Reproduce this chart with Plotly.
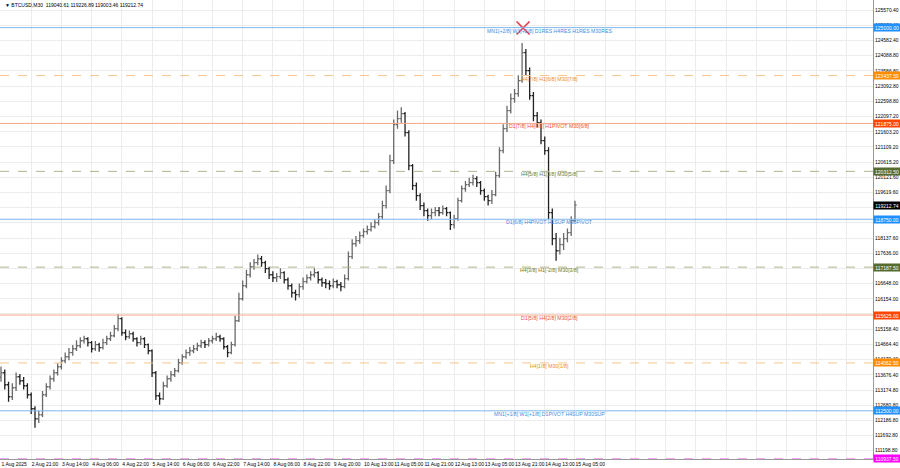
import plotly.graph_objects as go

# ---------------- data ----------------
symbol_info = "\u25bc BTCUSD,M30  119040.61 119226.89 119003.46 119212.74"

# candle closes, highs, lows (one candle every 4 M30 slots)
closes = [113742,113351,112960,113253,113612,113482,113318,113025,112568,112242,
          112372,113025,113286,113547,113742,113939,114134,114265,114396,114526,
          114624,114787,114852,114722,114526,114657,114559,114722,114852,114950,
          115179,115505,115048,114917,115015,114852,114722,114852,114657,114461,
          113742,112992,112894,113318,113547,113677,113808,114069,114265,114396,
          114461,114526,114624,114722,114657,114787,114852,114917,114852,114591,
          114396,114657,115439,116157,116581,116940,117201,117332,117462,117332,
          117136,116940,116842,116875,117006,116777,116581,116353,116288,116549,
          116712,116842,116940,117006,116777,116679,116647,116581,116712,116614,
          116549,116810,117528,117951,118050,118213,118343,118409,118507,118637,
          118833,119192,119681,120660,121835,122031,122194,121574,120497,119844,
          119518,119192,119029,118865,118963,119029,118963,119094,118963,118572,
          118768,119355,119746,119877,119942,120073,119942,119681,119485,119355,
          119551,120171,120986,121704,122292,122683,122846,123271,124184,123597,
          122781,122129,121900,121313,120986,118963,118115,117723,117919,118115,
          118311,118702,119212.74]
highs = [113950,113850,113450,113400,113750,113700,113600,113400,113100,112650,
         112500,113150,113400,113650,113850,114050,114250,114400,114550,114650,
         114800,114900,114950,114900,114780,114780,114720,114850,114950,115080,
         115300,115650,115550,115150,115120,115080,114900,114950,114900,114700,
         114500,113800,113100,113450,113650,113800,113900,114200,114350,114500,
         114580,114650,114720,114820,114800,114880,114950,115050,114980,114900,
         114650,114750,115600,116350,116750,117100,117350,117450,117600,117550,
         117400,117200,117050,117000,117150,117050,116850,116650,116450,116650,
         116850,116950,117050,117150,117050,116850,116800,116750,116820,116780,
         116700,116950,117700,118100,118200,118350,118450,118550,118650,118750,
         118950,119350,119850,120850,122000,122300,122400,122250,121650,120550,
         119950,119600,119300,119100,119100,119150,119150,119200,119150,119000,
         118900,119450,119850,120000,120100,120200,120150,120000,119750,119550,
         119700,120300,121100,121850,122450,122850,123000,123450,124500,124300,
         123700,122900,122250,122000,121450,121100,119100,118300,118150,118300,
         118450,118850,119350]
lows = [113450,113200,112800,112850,113150,113350,113200,112900,112400,111950,
        112100,112300,112950,113200,113450,113650,113850,114050,114150,114300,
        114450,114550,114700,114600,114400,114450,114430,114500,114650,114780,
        114900,115100,114950,114800,114850,114750,114600,114650,114550,114350,
        113600,112850,112700,112850,113250,113450,113600,113750,114000,114200,
        114300,114380,114450,114550,114550,114600,114700,114780,114750,114500,
        114250,114350,114600,115400,116100,116500,116850,117100,117250,117200,
        117000,116800,116700,116700,116800,116650,116450,116200,116100,116200,
        116450,116650,116750,116850,116650,116550,116500,116450,116500,116500,
        116400,116500,116750,117450,117850,117950,118150,118250,118350,118450,
        118550,118750,119100,119600,120550,121700,121900,121450,120350,119700,
        119350,119050,118850,118700,118750,118850,118850,118900,118850,118400,
        118450,118700,119300,119650,119800,119850,119800,119550,119350,119200,
        119250,119500,120100,120900,121600,122200,122550,122750,123200,123450,
        122650,121950,121750,121200,120850,118750,117900,117400,117600,117750,
        118000,118200,118650]
first_open = 113600
slot_step = 4  # M30 slots per drawn candle

x_tick_labels = ["1 Aug 2025","2 Aug 21:00","3 Aug 14:00","4 Aug 06:00","4 Aug 22:00",
                 "5 Aug 14:00","6 Aug 06:00","6 Aug 22:00","7 Aug 14:00","8 Aug 06:00",
                 "8 Aug 22:00","9 Aug 20:00","10 Aug 13:00","11 Aug 05:00","11 Aug 21:00",
                 "12 Aug 13:00","13 Aug 05:00","13 Aug 21:00","14 Aug 13:00","15 Aug 05:00"]
slots_per_label = 32

y_tick_vals = [125570.40,125076.40,124582.40,124088.80,123586.80,123092.80,122598.80,
               122097.20,121603.20,121109.20,120615.20,120121.60,119619.60,119125.60,
               118631.60,118137.60,117636.00,117142.00,116648.00,116154.00,115660.00,
               115158.40,114664.40,114170.40,113676.40,113174.80,112680.80,112186.80,
               111692.80,111198.80]
# tick labels fully hidden behind price boxes in the reference
y_hidden_ticks = [119125.60, 118631.60, 117142.00, 115660.00]

level_prices = [125000.00,123437.50,121875.00,120312.50,118750.00,117187.50,
                115625.00,114062.50,112500.00,110937.50]
level_texts = ["MN1[+2/8] W1[+2/8] D1RES H4RES H1RES M30RES",
               "H4[7/8] H1[6/8] M30[7/8]",
               "D1[7/8] H4[6/8] H1PIVOT M30[6/8]",
               "H4[5/8] H1[3/8] M30[5/8]",
               "D1[6/8] H4PIVOT H1SUP M30PIVOT",
               "H4[3/8] H1[-2/8] M30[3/8]",
               "D1[5/8] H4[2/8] M30[2/8]",
               "H4[1/8] M30[1/8]",
               "MN1[+1/8] W1[+1/8] D1PIVOT H4SUP M30SUP",
               ""]
level_line_colors = ["#7db6ee","#f6c48e","#f5a88c","#b0b48c","#7db6ee",
                     "#b0b48c","#f5a88c","#f6c48e","#7db6ee","#f08cf0"]
level_text_colors = ["#3c8ee6","#f08a1c","#f0501e","#6b7a2a","#3c8ee6",
                     "#6b7a2a","#f0501e","#f08a1c","#3c8ee6","#e020e0"]
level_box_colors = ["#1e90ff","#ff8c00","#ff4500","#556b2f","#1e90ff",
                    "#556b2f","#ff4500","#ff8c00","#1e90ff","#ff00ff"]
level_dash = ["solid","dash","solid","dash","solid","dash","solid","dash","solid","dash"]

last_price = 119212.74
signal_slot = 553
signal_price = 124990
label_slot = 581

# ---------------- figure ----------------
xs = [i * slot_step for i in range(len(closes))]
opens = [first_open] + closes[:-1]
highs2 = [max(h, o, c) for h, o, c in zip(highs, opens, closes)]
lows2 = [min(l, o, c) for l, o, c in zip(lows, opens, closes)]

fig = go.Figure()
fig.add_trace(go.Ohlc(
    x=xs, open=opens, high=highs2, low=lows2, close=closes,
    increasing=dict(line=dict(color="#6a6a6a", width=1.3)),
    decreasing=dict(line=dict(color="#222222", width=1.3)),
    tickwidth=0.45, showlegend=False, hoverinfo="skip"))

fig.add_trace(go.Scatter(x=[signal_slot], y=[signal_price], mode="markers",
                         marker=dict(symbol="x-thin", size=13,
                                     line=dict(color="#e23a4a", width=1.6)),
                         showlegend=False, hoverinfo="skip"))

shapes = []
annotations = []
for p, t, lc, tc, bc, d in zip(level_prices, level_texts, level_line_colors,
                               level_text_colors, level_box_colors, level_dash):
    shapes.append(dict(type="line", xref="paper", x0=0, x1=1, yref="y", y0=p, y1=p,
                       line=dict(color=lc, width=1, dash=d), layer="above"))
    if t:
        annotations.append(dict(x=label_slot, y=p, xref="x", yref="y", text=t,
                                showarrow=False, yshift=-3,
                                font=dict(size=5.2, color=tc, family="Liberation Sans")))
    annotations.append(dict(x=1, y=p, xref="paper", yref="y", xanchor="left",
                            text=f"{p:.2f}", showarrow=False, bgcolor=bc, borderpad=0.5,
                            width=25, font=dict(size=5, color="#ffffff",
                                                family="Liberation Sans")))
annotations.append(dict(x=1, y=last_price, xref="paper", yref="y", xanchor="left",
                        text=f"{last_price:.2f}", showarrow=False, bgcolor="#000000",
                        borderpad=0.5, width=25,
                        font=dict(size=5, color="#ffffff", family="Liberation Sans")))
annotations.append(dict(x=0.003, y=0.999, xref="paper", yref="paper", xanchor="left",
                        yanchor="top", text=symbol_info, showarrow=False,
                        font=dict(size=5, color="#000000", family="Liberation Sans")))

tickvals_x = [k * slots_per_label for k in range(30)]
ticktext_x = x_tick_labels + [""] * (30 - len(x_tick_labels))
ticktext_y = ["" if v in y_hidden_ticks else f"{v:.2f}" for v in y_tick_vals]

fig.update_layout(
    width=900, height=468,
    margin=dict(l=0, r=27, t=0, b=9),
    paper_bgcolor="#ffffff", plot_bgcolor="#ffffff",
    shapes=shapes, annotations=annotations,
    xaxis=dict(range=[-1.06, 923.7], tickvals=tickvals_x, ticktext=ticktext_x,
               ticklabelposition="outside right", tickangle=0, ticks="",
               showgrid=True, gridcolor="#ececec",
               gridwidth=1, zeroline=False, showline=True, linecolor="#999999",
               tickfont=dict(size=5, color="#000000", family="Liberation Sans"),
               rangeslider=dict(visible=False), fixedrange=True, automargin=False),
    yaxis=dict(range=[110929, 125902], side="right", tickvals=y_tick_vals,
               ticktext=ticktext_y, showgrid=True,
               gridcolor="#ececec", gridwidth=1, zeroline=False, showline=True,
               linecolor="#999999", ticks="", automargin=False, fixedrange=True,
               tickfont=dict(size=5, color="#000000", family="Liberation Sans")),
)

fig.write_html("out.html", config={"displayModeBar": False},
               post_script="document.body.style.margin='0';")
